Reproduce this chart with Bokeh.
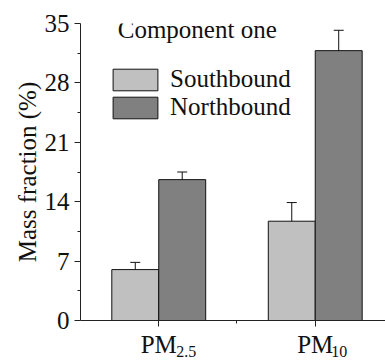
from bokeh.plotting import figure
from bokeh.models import (ColumnDataSource, FixedTicker, Label, Legend, LegendItem,
                          Whisker, TeeHead, Range1d, LinearAxis)
from bokeh.embed import file_html
from bokeh.resources import INLINE

# ---- data ----
categories = ["PM", "PM"]
subscripts = ["2.5", "10"]
cat_pos = [1, 2]
sub_pos = [1.176, 2.153]
south_vals = [6.0, 11.7]
south_err = [0.85, 2.2]
north_vals = [16.6, 31.8]
north_err = [0.9, 2.4]
y_ticks = [0, 7, 14, 21, 28, 35]
y_minor = [3.5, 10.5, 17.5, 24.5, 31.5]
series_names = ["Southbound", "Northbound"]
title_text = "Component one"
y_label = "Mass fraction (%)"

FONT = "'Liberation Serif'"
TXT = "#111111"
dodge = 0.15
bw = 0.3

p = figure(width=385, height=363, output_backend="svg", toolbar_location=None,
           x_range=Range1d(0.5, 2.449), y_range=Range1d(0, 35),
           min_border_left=80, min_border_right=0, min_border_top=23, min_border_bottom=43)
p.outline_line_color = None
p.xgrid.visible = False
p.ygrid.visible = False
p.background_fill_color = "white"

sx = [c - dodge for c in cat_pos]
nx = [c + dodge for c in cat_pos]
src_s = ColumnDataSource(dict(x=sx, top=south_vals,
                              up=[v + e for v, e in zip(south_vals, south_err)],
                              lo=[v - e for v, e in zip(south_vals, south_err)]))
src_n = ColumnDataSource(dict(x=nx, top=north_vals,
                              up=[v + e for v, e in zip(north_vals, north_err)],
                              lo=[v - e for v, e in zip(north_vals, north_err)]))

r_s = p.vbar(x="x", top="top", width=bw, source=src_s, fill_color="#C0C0C0",
             line_color=TXT, line_width=1)
r_n = p.vbar(x="x", top="top", width=bw, source=src_n, fill_color="#808080",
             line_color=TXT, line_width=1)

for src in (src_s, src_n):
    w = Whisker(base="x", upper="up", lower="lo", source=src,
                line_color=TXT, line_width=1,
                upper_head=TeeHead(size=10, line_color=TXT, line_width=1),
                lower_head=TeeHead(size=10, line_color=TXT, line_width=1))
    p.add_layout(w)

# y axis
ya = p.yaxis[0]
ya.ticker = FixedTicker(ticks=y_ticks, minor_ticks=y_minor)
ya.major_tick_out = 6
ya.major_tick_in = 0
ya.minor_tick_out = 3
ya.minor_tick_in = 0
ya.axis_line_color = "#222222"
ya.major_tick_line_color = "#222222"
ya.minor_tick_line_color = "#222222"
ya.major_label_text_font = FONT
ya.major_label_text_font_size = "25px"
ya.major_label_text_color = TXT
ya.major_label_standoff = 5
ya.axis_label = y_label
ya.axis_label_text_font = FONT
ya.axis_label_text_font_size = "25px"
ya.axis_label_text_font_style = "normal"
ya.axis_label_text_color = TXT
ya.axis_label_standoff = 1

# x axis (main: ticks + "PM")
xa = p.xaxis[0]
xa.ticker = FixedTicker(ticks=cat_pos, minor_ticks=[1.5])
xa.major_label_overrides = {c: t for c, t in zip(cat_pos, categories)}
xa.major_tick_out = 6
xa.major_tick_in = 0
xa.minor_tick_out = 3
xa.minor_tick_in = 0
xa.axis_line_color = "#222222"
xa.major_tick_line_color = "#222222"
xa.minor_tick_line_color = "#222222"
xa.major_label_text_font = FONT
xa.major_label_text_font_size = "25px"
xa.major_label_text_color = TXT
xa.major_label_standoff = 4

# second x axis: subscripts
xb = LinearAxis(ticker=FixedTicker(ticks=sub_pos, minor_ticks=[]),
                major_label_overrides={c: t for c, t in zip(sub_pos, subscripts)},
                axis_line_color=None, major_tick_line_color=None, minor_tick_line_color=None,
                major_tick_out=0, major_tick_in=0, minor_tick_out=0, minor_tick_in=0,
                major_label_text_font=FONT, major_label_text_font_size="16px",
                major_label_text_color=TXT, major_label_standoff=-15)
p.add_layout(xb, "below")

# title text inside plot
p.add_layout(Label(x=0.738, y=34.3, text=title_text, text_align="left",
                   text_baseline="middle", text_font=FONT,
                   text_font_size="25px", text_color=TXT))

legend = Legend(items=[LegendItem(label=series_names[0], renderers=[r_s]),
                       LegendItem(label=series_names[1], renderers=[r_n])],
                location=(27, 199), orientation="vertical",
                glyph_width=56, glyph_height=27, spacing=0, padding=0, margin=0,
                label_standoff=7, label_text_font=FONT, label_text_font_size="25px",
                label_text_color=TXT, border_line_color=None,
                background_fill_alpha=0)
p.add_layout(legend)

open("out.html", "w").write(file_html(p, INLINE))
